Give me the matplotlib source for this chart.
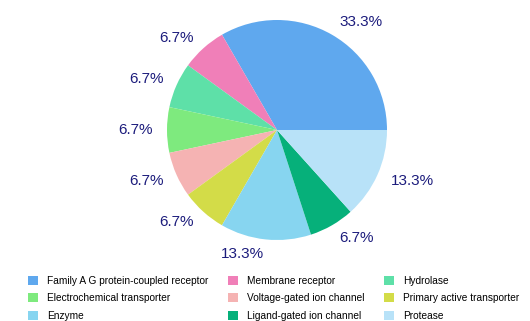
import matplotlib
matplotlib.use("Agg")
import matplotlib.pyplot as plt

plt.rcParams['font.family'] = ['Liberation Sans', 'DejaVu Sans']

# dane
kategorie = ["Family A G protein-coupled receptor", "Membrane receptor", "Hydrolase",
             "Electrochemical transporter", "Voltage-gated ion channel", "Primary active transporter",
             "Enzyme", "Ligand-gated ion channel", "Protease"]
wartosci = [5, 1, 1, 1, 1, 1, 2, 1, 2]
kolory = ["#5fa8ee", "#f07fb8", "#5ee0a8", "#7eea7e", "#f5b3b3", "#d3dc48",
          "#87d5f0", "#06b07a", "#b8e2f8"]

suma = sum(wartosci)
etykiety = ["%.1f%%" % (100.0 * w / suma) for w in wartosci]

fig = plt.figure(figsize=(5.3, 3.21), dpi=100)
W, H = 530.0, 321.0
r_px = 110.0
cx, cy = 277.0, 130.0
bok = 2.5 * r_px
ax = fig.add_axes([(cx - bok / 2) / W, (H - cy - bok / 2) / H, bok / W, bok / H])

klinki, teksty = ax.pie(wartosci, colors=kolory, labels=etykiety, startangle=0,
                        counterclock=True, labeldistance=1.13,
                        textprops={"fontsize": 11, "color": "#1c1c7c"})
ax.set_xlim(-1.25, 1.25)
ax.set_ylim(-1.25, 1.25)
ax.set_aspect("equal")

# legenda wypelniana wierszami (matplotlib wypelnia kolumnami)
kolejnosc = [0, 3, 6, 1, 4, 7, 2, 5, 8]
fig.legend([klinki[i] for i in kolejnosc], [kategorie[i] for i in kolejnosc], ncol=3,
           loc="upper left", bbox_to_anchor=(28 / W, 1 - 276 / H),
           frameon=False, fontsize=7.3, handlelength=1.0, handleheight=1.0, handletextpad=0.9,
           columnspacing=1.9, labelspacing=0.72, borderaxespad=0, borderpad=0)

fig.savefig("out.png", dpi=100)
